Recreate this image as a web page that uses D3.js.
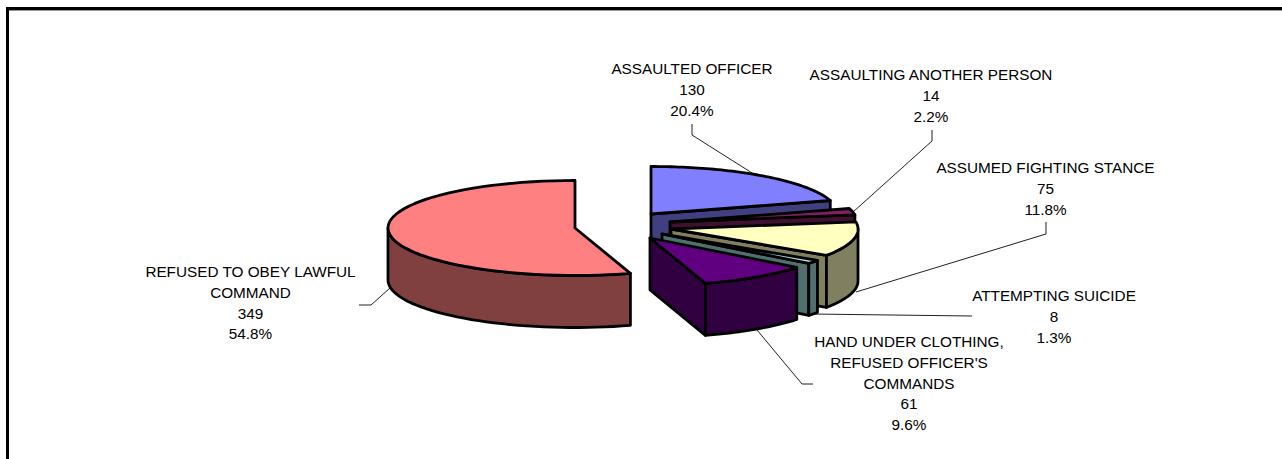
<!DOCTYPE html>
<html><head><meta charset="utf-8">
<script src="https://cdnjs.cloudflare.com/ajax/libs/d3/7.8.5/d3.min.js"></script>
<style>html,body{margin:0;padding:0;background:#fff;overflow:hidden}svg{display:block}
text{font-family:"Liberation Sans",Arial,sans-serif;font-size:15.3px;fill:#000}</style>
</head><body><svg id="c" width="1282" height="459"></svg>
<script>
// DATA
const categories = ["ASSAULTED OFFICER","ASSAULTING ANOTHER PERSON","ASSUMED FIGHTING STANCE","ATTEMPTING SUICIDE","HAND UNDER CLOTHING, REFUSED OFFICER'S COMMANDS","REFUSED TO OBEY LAWFUL COMMAND"];
const values = [130,14,75,8,61,349];
const labelLines = [["ASSAULTED OFFICER"],["ASSAULTING ANOTHER PERSON"],["ASSUMED FIGHTING STANCE"],["ATTEMPTING SUICIDE"],["HAND UNDER CLOTHING,","REFUSED OFFICER'S","COMMANDS"],["REFUSED TO OBEY LAWFUL","COMMAND"]];

// LAYOUT
const topColors = ["#8080FF","#802060","#FFFFC0","#A0E0E0","#600080","#FF8080"];
const wallColors = ["#404080","#401030","#808060","#507070","#300040","#804040"];
const apexes = [[651,214],[670,222],[671,229],[662,234],[650,238],[575,228]];
const radiusX = 187, radiusY = 47.5, depth = 52;
const labelAnchors = [[692,74],[931,80],[1045.5,173],[1054,301],[909,347],[250.5,277]];
const leaders = [
 [[692,124],[692,135],[760,178]],
 [[932,130],[932,141],[853,212]],
 [[1046,222],[1046,234],[856,292]],
 [[972,316],[811,314]],
 [[757,330],[802,384],[813,384]],
 [[390,288],[371,305],[359,305]]
];
const lineH = 20.8;

const svg = d3.select("#c");
const total = d3.sum(values);
const pct = d3.format(".1%");
const slices = d3.pie().sort(null).startAngle(0).endAngle(2*Math.PI)(values);
const sx = d3.scaleLinear().domain([-1,1]).range([-radiusX,radiusX]);
const sy = d3.scaleLinear().domain([-1,1]).range([-radiusY,radiusY]);
const pt = (i,a,dz=0)=>[apexes[i][0]+sx(Math.sin(a)), apexes[i][1]-sy(Math.cos(a))+dz];
const line = d3.line();
const stroke = {stroke:"#000","stroke-width":2.8,"stroke-linejoin":"round"};
function face(d,fill){const p=svg.append("path").attr("d",line(d)+"Z").attr("fill",fill);
  for(const k in stroke)p.attr(k,stroke[k]);}

// frame
svg.append("rect").attr("x",6).attr("y",10).attr("width",1276).attr("height",1).attr("fill","#999");
svg.append("rect").attr("x",6).attr("y",7).attr("width",1276).attr("height",3).attr("fill","#000");
svg.append("rect").attr("x",6).attr("y",7).attr("width",3).attr("height",452).attr("fill","#000");

// leaders
leaders.forEach(l=>svg.append("path").attr("d",line(l)).attr("fill","none").attr("stroke","#222").attr("stroke-width",1));

// slices, back to front
slices.forEach((s,i)=>{
  const a0=s.startAngle,a1=s.endAngle,ap=apexes[i],apB=[ap[0],ap[1]+depth];
  if(Math.sin(a1)>0.001) face([ap,pt(i,a1),pt(i,a1,depth),apB],wallColors[i]);
  if(Math.sin(a0)<-0.001) face([ap,pt(i,a0),pt(i,a0,depth),apB],wallColors[i]);
  const w0=Math.max(a0,Math.PI/2),w1=Math.min(a1,1.5*Math.PI);
  if(w1>w0){
    const as=d3.range(0,41).map(k=>w0+(w1-w0)*k/40);
    face(as.map(a=>pt(i,a)).concat(as.slice().reverse().map(a=>pt(i,a,depth))),wallColors[i]);
  }
  const as=d3.range(0,61).map(k=>a0+(a1-a0)*k/60);
  face([ap].concat(as.map(a=>pt(i,a))),topColors[i]);
});

// labels
labelLines.forEach((ls,i)=>{
  const all=ls.concat([String(values[i]),pct(values[i]/total)]);
  const t=svg.append("text").attr("text-anchor","middle");
  all.forEach((x,k)=>t.append("tspan").attr("x",labelAnchors[i][0]).attr("y",labelAnchors[i][1]+k*lineH).text(x));
});
</script></body></html>
